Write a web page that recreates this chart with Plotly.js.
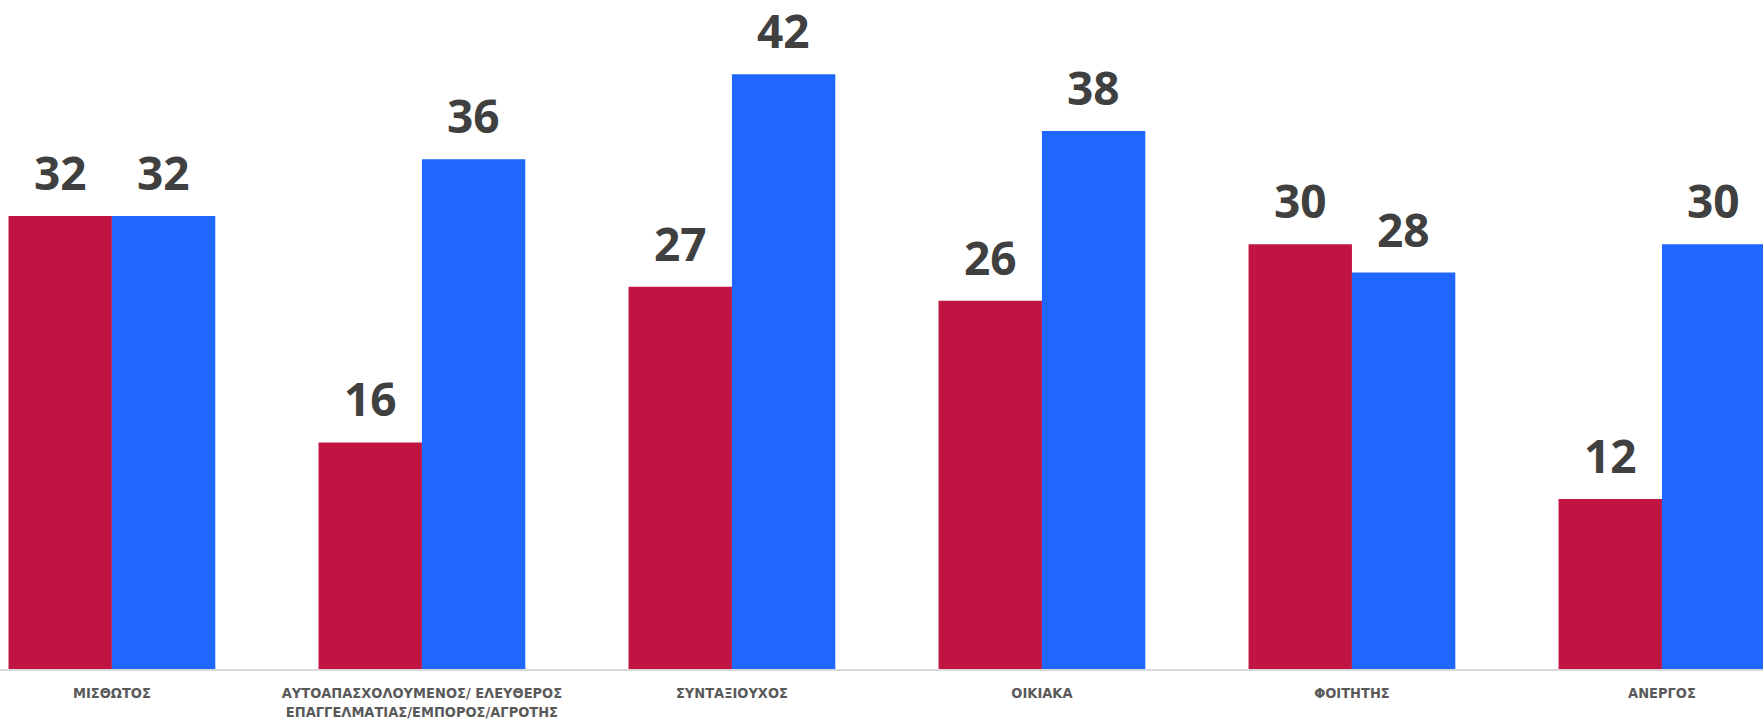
<!DOCTYPE html>
<html>
<head>
<meta charset="utf-8">
<script src="https://cdn.plot.ly/plotly-3.0.1.min.js"></script>
<style>html,body{margin:0;padding:0;background:#fff;}#chart{width:1763px;height:724px;}</style>
</head>
<body>
<div id="chart"></div>
<script>
const categories = ["ΜΙΣΘΩΤΟΣ", "ΑΥΤΟΑΠΑΣΧΟΛΟΥΜΕΝΟΣ/ ΕΛΕΥΘΕΡΟΣ<br>ΕΠΑΓΓΕΛΜΑΤΙΑΣ/ΕΜΠΟΡΟΣ/ΑΓΡΟΤΗΣ", "ΣΥΝΤΑΞΙΟΥΧΟΣ", "ΟΙΚΙΑΚΑ", "ΦΟΙΤΗΤΗΣ", "ΑΝΕΡΓΟΣ"];
const seriesRed = [32, 16, 27, 26, 30, 12];
const seriesBlue = [32, 36, 42, 38, 28, 30];

const idx = categories.map((c, i) => i);
const traces = [
  {type: 'bar', x: idx, y: seriesRed, marker: {color: '#C01442'}, hoverinfo: 'y', name: 'A'},
  {type: 'bar', x: idx, y: seriesBlue, marker: {color: '#1F67FF'}, hoverinfo: 'y', name: 'B'}
];
const annotations = [];
[seriesRed, seriesBlue].forEach((s, k) => {
  s.forEach((v, i) => {
    annotations.push({
      x: i + (k === 0 ? -1/6 : 1/6), y: v, xref: 'x', yref: 'y',
      text: String(v), showarrow: false, yanchor: 'bottom', yshift: 11,
      font: {family: 'Open Sans', size: 46, color: '#404040', weight: 700}
    });
  });
});
const layout = {
  width: 1763, height: 724,
  margin: {l: 0, r: 0, t: 0, b: 55},
  paper_bgcolor: '#fff', plot_bgcolor: '#fff',
  showlegend: false,
  barmode: 'group', bargap: 0.333, bargroupgap: 0,
  xaxis: {
    range: [-0.361, 5.326], tickmode: 'array', tickvals: idx, ticktext: categories,
    showline: true, linecolor: '#D9D9D9', linewidth: 2, showgrid: false, zeroline: false,
    ticks: '', ticklabelstandoff: 10,
    tickfont: {family: 'DejaVu Sans Condensed', size: 14.5, color: '#595959', weight: 700}
  },
  yaxis: {range: [0, 47.25], visible: false, showgrid: false, zeroline: false},
  annotations: annotations
};
Plotly.newPlot('chart', traces, layout, {displayModeBar: false, staticPlot: true});
</script>
</body>
</html>
